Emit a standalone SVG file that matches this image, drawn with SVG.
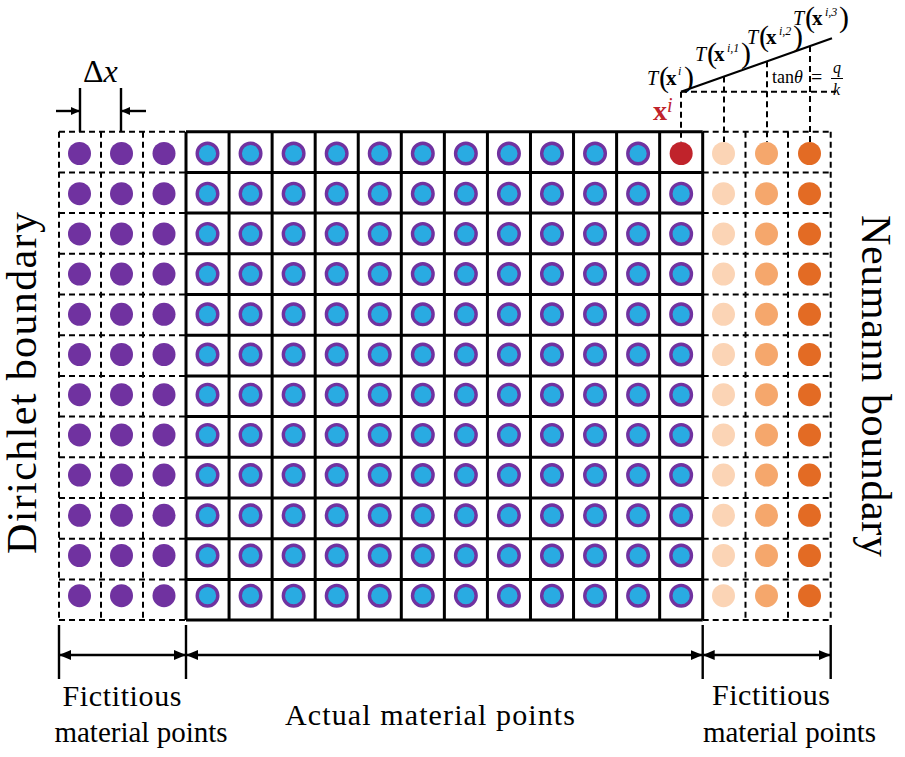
<svg xmlns="http://www.w3.org/2000/svg" xmlns:xlink="http://www.w3.org/1999/xlink" width="905" height="757" viewBox="0 0 905 757">
<style>
.serif{font-family:"Liberation Serif","Times New Roman",serif;fill:#000}
.it{font-style:italic}
.bd{font-weight:bold}
.grid{stroke:#000;stroke-width:3;fill:none}
.dash{stroke:#000;stroke-width:2;stroke-dasharray:6 4;fill:none}
.dim{stroke:#000;stroke-width:2.4;fill:none}
.pu{fill:#7032A0}
.bl{fill:#29ABE2;stroke:#7032A0;stroke-width:3.4}
.o1{fill:#FBD4B5}
.o2{fill:#F5A76C}
.o3{fill:#E36B24}
</style>
<defs>
<marker id="ah" viewBox="0 0 12 10" refX="12" refY="5" markerWidth="12" markerHeight="10" markerUnits="userSpaceOnUse" orient="auto-start-reverse"><path d="M0,0 L12,5 L0,10 z" fill="#000"/></marker>
<marker id="ahs" viewBox="0 0 9 8" refX="9" refY="4" markerWidth="9" markerHeight="8" markerUnits="userSpaceOnUse" orient="auto-start-reverse"><path d="M0,0 L9,4 L0,8 z" fill="#000"/></marker>
<g id="rowL">
<circle class="pu" cx="79.5" cy="0" r="11.5"/><circle class="pu" cx="121.5" cy="0" r="11.5"/><circle class="pu" cx="164" cy="0" r="11.5"/>
</g>
<g id="a11">
<circle class="bl" cx="207.5" cy="0" r="10.3"/><circle class="bl" cx="250.56" cy="0" r="10.3"/><circle class="bl" cx="293.62" cy="0" r="10.3"/><circle class="bl" cx="336.68" cy="0" r="10.3"/><circle class="bl" cx="379.74" cy="0" r="10.3"/><circle class="bl" cx="422.8" cy="0" r="10.3"/><circle class="bl" cx="465.86" cy="0" r="10.3"/><circle class="bl" cx="508.92" cy="0" r="10.3"/><circle class="bl" cx="551.98" cy="0" r="10.3"/><circle class="bl" cx="595.04" cy="0" r="10.3"/><circle class="bl" cx="638.1" cy="0" r="10.3"/>
</g>
<circle id="a12" class="bl" cx="681.16" cy="0" r="10.3"/>
<g id="rowR">
<circle class="o1" cx="723.5" cy="0" r="11.5"/><circle class="o2" cx="766.5" cy="0" r="11.5"/><circle class="o3" cx="809.5" cy="0" r="11.5"/>
</g>
</defs>
<rect width="905" height="757" fill="#fff"/>

<g id="left-fictitious">
<path class="dash" d="M59,131.7H186M59,172.4H186M59,213.1H186M59,253.8H186M59,294.5H186M59,335.2H186M59,375.9H186M59,416.6H186M59,457.3H186M59,498H186M59,538.7H186M59,579.4H186M59,620.1H186M59,131.7V620.1M101,131.7V620.1M143,131.7V620.1"/>
<use href="#rowL" y="153.5"/><use href="#rowL" y="193.7"/><use href="#rowL" y="233.9"/><use href="#rowL" y="274.1"/><use href="#rowL" y="314.3"/><use href="#rowL" y="354.5"/><use href="#rowL" y="394.7"/><use href="#rowL" y="434.9"/><use href="#rowL" y="475.1"/><use href="#rowL" y="515.3"/><use href="#rowL" y="555.5"/><use href="#rowL" y="595.7"/>
</g>

<g id="right-fictitious">
<path class="dash" d="M702.7,131.7H830.7M702.7,172.4H830.7M702.7,213.1H830.7M702.7,253.8H830.7M702.7,294.5H830.7M702.7,335.2H830.7M702.7,375.9H830.7M702.7,416.6H830.7M702.7,457.3H830.7M702.7,498H830.7M702.7,538.7H830.7M702.7,579.4H830.7M702.7,620.1H830.7M745.5,131.7V620.1M788,131.7V620.1M830.7,131.7V620.1"/>
<use href="#rowR" y="153.5"/><use href="#rowR" y="193.7"/><use href="#rowR" y="233.9"/><use href="#rowR" y="274.1"/><use href="#rowR" y="314.3"/><use href="#rowR" y="354.5"/><use href="#rowR" y="394.7"/><use href="#rowR" y="434.9"/><use href="#rowR" y="475.1"/><use href="#rowR" y="515.3"/><use href="#rowR" y="555.5"/><use href="#rowR" y="595.7"/>
</g>

<g id="actual">
<path class="grid" d="M186,131.7H702.7M186,172.4H702.7M186,213.1H702.7M186,253.8H702.7M186,294.5H702.7M186,335.2H702.7M186,375.9H702.7M186,416.6H702.7M186,457.3H702.7M186,498H702.7M186,538.7H702.7M186,579.4H702.7M186,620.1H702.7M186,131.7V620.1M229.06,131.7V620.1M272.12,131.7V620.1M315.18,131.7V620.1M358.24,131.7V620.1M401.3,131.7V620.1M444.36,131.7V620.1M487.42,131.7V620.1M530.48,131.7V620.1M573.54,131.7V620.1M616.6,131.7V620.1M659.66,131.7V620.1M702.7,131.7V620.1"/>
<use href="#a11" y="153.5"/><use href="#a11" y="193.7"/><use href="#a11" y="233.9"/><use href="#a11" y="274.1"/><use href="#a11" y="314.3"/><use href="#a11" y="354.5"/><use href="#a11" y="394.7"/><use href="#a11" y="434.9"/><use href="#a11" y="475.1"/><use href="#a11" y="515.3"/><use href="#a11" y="555.5"/><use href="#a11" y="595.7"/>
<use href="#a12" y="193.7"/><use href="#a12" y="233.9"/><use href="#a12" y="274.1"/><use href="#a12" y="314.3"/><use href="#a12" y="354.5"/><use href="#a12" y="394.7"/><use href="#a12" y="434.9"/><use href="#a12" y="475.1"/><use href="#a12" y="515.3"/><use href="#a12" y="555.5"/><use href="#a12" y="595.7"/>
<circle id="xi-point" cx="681.16" cy="153.5" r="11.5" fill="#C0232B"/>
</g>

<g id="connectors">
<path class="dim" d="M80,88V131.7M121,88V131.7"/>
<line class="dim" x1="56" y1="111" x2="80" y2="111" marker-end="url(#ahs)"/>
<line class="dim" x1="146" y1="111" x2="121" y2="111" marker-end="url(#ahs)"/>
<path class="dim" d="M59,625V679M186,625V679M702.7,625V679M830.7,625V679"/>
<line class="dim" x1="59" y1="655" x2="186" y2="655" marker-start="url(#ah)" marker-end="url(#ah)"/>
<line class="dim" x1="186" y1="655" x2="702.7" y2="655" marker-start="url(#ah)" marker-end="url(#ah)"/>
<line class="dim" x1="702.7" y1="655" x2="830.7" y2="655" marker-start="url(#ah)" marker-end="url(#ah)"/>
<line x1="681" y1="91.7" x2="832" y2="38.3" stroke="#000" stroke-width="2.2"/>
<path class="dash" d="M681,91.7H836M681,91.7V142M724,76.5V142M767,61.3V142M810,46.1V142"/>
</g>

<g id="labels">
<text class="serif" x="83" y="82" font-size="32">Δ<tspan class="it">x</tspan></text>
<text class="serif bd" x="653" y="120" font-size="28" style="fill:#C0232B">x<tspan class="it" font-weight="normal" font-size="20" dy="-8">i</tspan></text>

<g id="T0" class="serif">
<text class="it" x="647" y="85" font-size="20">T</text>
<text x="659" y="87" font-size="30">(</text>
<text class="bd" x="666" y="85" font-size="21">x</text>
<text class="it" x="678" y="75" font-size="12">i</text>
<text x="684" y="87" font-size="30">)</text>
</g>
<g id="T1" class="serif">
<text class="it" x="695" y="61" font-size="20">T</text>
<text x="707" y="63" font-size="30">(</text>
<text class="bd" x="714" y="61" font-size="21">x</text>
<text class="it" x="727" y="52" font-size="12">i,1</text>
<text x="741" y="63" font-size="30">)</text>
</g>
<g id="T2" class="serif">
<text class="it" x="747" y="44" font-size="20">T</text>
<text x="759" y="46" font-size="30">(</text>
<text class="bd" x="766" y="44" font-size="21">x</text>
<text class="it" x="779" y="35" font-size="12">i,2</text>
<text x="793" y="46" font-size="30">)</text>
</g>
<g id="T3" class="serif">
<text class="it" x="793" y="25" font-size="20">T</text>
<text x="805" y="27" font-size="30">(</text>
<text class="bd" x="812" y="25" font-size="21">x</text>
<text class="it" x="825" y="16" font-size="12">i,3</text>
<text x="839" y="27" font-size="30">)</text>
</g>
<g id="tan" class="serif">
<text x="772" y="83" font-size="18">tan<tspan class="it">θ</tspan></text>
<text x="811" y="84" font-size="20">=</text>
<text class="it" x="833" y="73" font-size="16">q</text>
<line x1="831" y1="78.5" x2="843" y2="78.5" stroke="#000" stroke-width="1"/>
<text class="it" x="833" y="95" font-size="16">k</text>
</g>

<text class="serif" transform="translate(36,383) rotate(-90)" text-anchor="middle" font-size="42" textLength="342" lengthAdjust="spacing">Dirichlet boundary</text>
<text class="serif" transform="translate(862,386) rotate(90)" text-anchor="middle" font-size="42" textLength="342" lengthAdjust="spacing">Neumann boundary</text>

<text class="serif" x="122" y="706" font-size="30" text-anchor="middle" textLength="119" lengthAdjust="spacing">Fictitious</text>
<text class="serif" x="141" y="742" font-size="29" text-anchor="middle">material points</text>
<text class="serif" x="430" y="725" font-size="30" text-anchor="middle" textLength="290" lengthAdjust="spacing">Actual material points</text>
<text class="serif" x="771" y="705" font-size="30" text-anchor="middle" textLength="118" lengthAdjust="spacing">Fictitious</text>
<text class="serif" x="789.5" y="742" font-size="29" text-anchor="middle">material points</text>
</g>
</svg>
